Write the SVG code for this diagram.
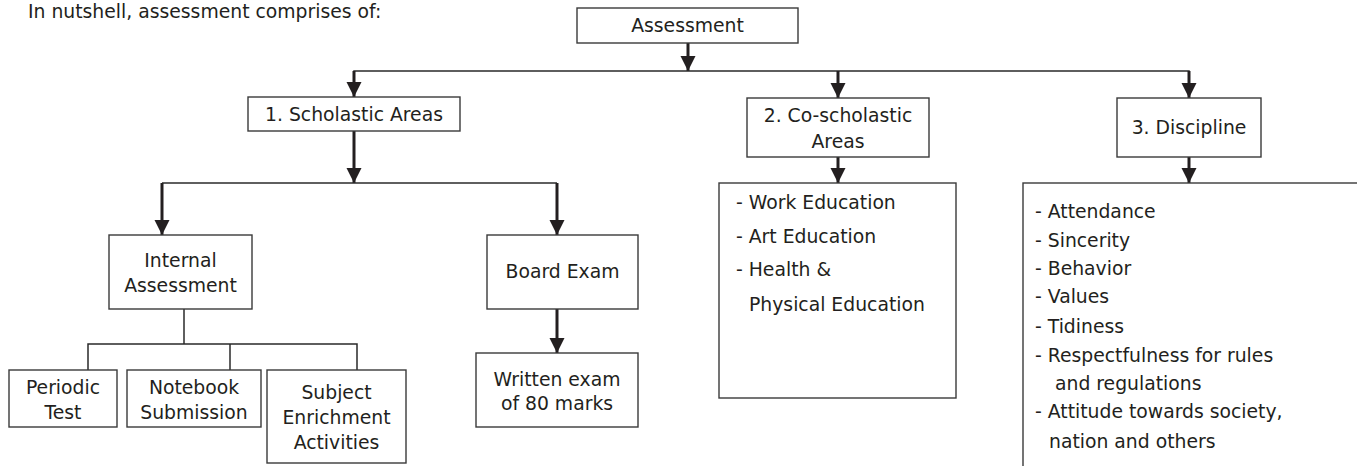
<svg xmlns="http://www.w3.org/2000/svg" width="1357" height="466" viewBox="0 0 1357 466">
<style>
text{font-family:"DejaVu Sans","Verdana",sans-serif;font-size:18.8px;fill:#231f20}
.c{text-anchor:middle}
.box{fill:#fff;stroke:#3a3a3a;stroke-width:1.4}
.ln{fill:none;stroke:#2a2a2a;stroke-width:1.5}
.ar{fill:none;stroke:#231f20;stroke-width:3}
</style>
<defs>
<marker id="ah" markerUnits="userSpaceOnUse" markerWidth="15" markerHeight="16" refX="15" refY="7.5" orient="auto" viewBox="0 0 15 15">
<path d="M0,0 L15,7.5 L0,15 z" fill="#231f20"/>
</marker>
</defs>
<text x="28" y="18">In nutshell, assessment comprises of:</text>
<g id="connectors">
<line class="ar" x1="688" y1="43" x2="688" y2="71" marker-end="url(#ah)"/>
<polyline class="ln" points="354,97 354,71 1189,71 1189,97"/>
<line class="ar" x1="354" y1="71" x2="354" y2="97" marker-end="url(#ah)"/>
<line class="ar" x1="838" y1="71" x2="838" y2="98" marker-end="url(#ah)"/>
<line class="ar" x1="1189" y1="71" x2="1189" y2="98" marker-end="url(#ah)"/>
<line class="ar" x1="354" y1="131" x2="354" y2="183" marker-end="url(#ah)"/>
<line class="ln" x1="162" y1="183" x2="557" y2="183"/>
<line class="ar" x1="162" y1="183" x2="162" y2="235" marker-end="url(#ah)"/>
<line class="ar" x1="557" y1="183" x2="557" y2="235" marker-end="url(#ah)"/>
<line class="ar" x1="838" y1="157" x2="838" y2="183" marker-end="url(#ah)"/>
<line class="ar" x1="1189" y1="157" x2="1189" y2="183" marker-end="url(#ah)"/>
<line class="ar" x1="557" y1="309" x2="557" y2="353" marker-end="url(#ah)"/>
<line class="ln" x1="184" y1="309" x2="184" y2="344"/>
<polyline class="ln" points="88,370 88,344 357,344 357,370"/>
<line class="ln" x1="230" y1="344" x2="230" y2="370"/>
</g>
<g id="assessment"><rect class="box" x="577" y="8" width="221" height="35"/><text class="c" x="687.5" y="32">Assessment</text></g>
<g id="scholastic"><rect class="box" x="248" y="97" width="212" height="34"/><text class="c" x="354" y="121">1. Scholastic Areas</text></g>
<g id="coscholastic"><rect class="box" x="747" y="98" width="182" height="59"/><text class="c" x="838" y="122">2. Co-scholastic</text><text class="c" x="838" y="148">Areas</text></g>
<g id="discipline"><rect class="box" x="1117" y="98" width="144" height="59"/><text class="c" x="1189" y="134">3. Discipline</text></g>
<g id="internal"><rect class="box" x="109" y="235" width="143" height="74"/><text class="c" x="180.5" y="267">Internal</text><text class="c" x="180.5" y="292">Assessment</text></g>
<g id="board"><rect class="box" x="487" y="235" width="151" height="74"/><text class="c" x="562.5" y="278">Board Exam</text></g>
<g id="written"><rect class="box" x="476" y="353" width="162" height="74"/><text class="c" x="557" y="386">Written exam</text><text class="c" x="557" y="410">of 80 marks</text></g>
<g id="periodic"><rect class="box" x="9" y="370" width="108" height="57"/><text class="c" x="63" y="394">Periodic</text><text class="c" x="63" y="419">Test</text></g>
<g id="notebook"><rect class="box" x="127" y="370" width="134" height="57"/><text class="c" x="194" y="394">Notebook</text><text class="c" x="194" y="419">Submission</text></g>
<g id="subject"><rect class="box" x="267" y="370" width="139" height="93"/><text class="c" x="336.5" y="399">Subject</text><text class="c" x="336.5" y="424">Enrichment</text><text class="c" x="336.5" y="449">Activities</text></g>
<g id="coscholastic-list"><rect class="box" x="719" y="183" width="237" height="215"/>
<text x="736" y="209">- Work Education</text>
<text x="736" y="243">- Art Education</text>
<text x="736" y="276">- Health &amp;</text>
<text x="749" y="311">Physical Education</text></g>
<g id="discipline-list"><rect class="box" x="1023" y="183" width="345" height="300"/>
<text x="1035" y="218">- Attendance</text>
<text x="1035" y="247">- Sincerity</text>
<text x="1035" y="275">- Behavior</text>
<text x="1035" y="303">- Values</text>
<text x="1035" y="333">- Tidiness</text>
<text x="1035" y="362">- Respectfulness for rules</text>
<text x="1055" y="390">and regulations</text>
<text x="1035" y="418">- Attitude towards society,</text>
<text x="1049" y="448">nation and others</text></g>
</svg>
